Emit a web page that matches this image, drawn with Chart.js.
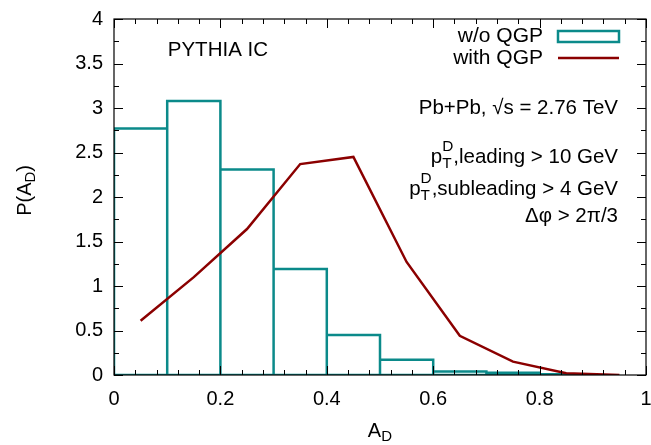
<!DOCTYPE html>
<html>
<head>
<meta charset="utf-8">
<script src="https://cdn.jsdelivr.net/npm/chart.js@4"></script>
<style>
  html, body { margin: 0; padding: 0; background: #fff; }
  #wrap { width: 651px; height: 445px; }
</style>
</head>
<body>
<div id="wrap"><canvas id="myChart" width="651" height="445"></canvas></div>
<script>
// histogram bins (centres) and heights, w/o QGP
const binCentres = [0.05, 0.15, 0.25, 0.35, 0.45, 0.55, 0.65, 0.75, 0.85];
const binWidth = 0.1;
const noQgp = [2.77, 3.08, 2.31, 1.19, 0.45, 0.17, 0.04, 0.025, 0.008];

// curve with QGP
const qgpX = [0.05, 0.15, 0.25, 0.35, 0.45, 0.55, 0.65, 0.75, 0.85, 0.95];
const withQgp = [0.61, 1.1, 1.64, 2.37, 2.45, 1.27, 0.44, 0.15, 0.02, 0.0];

const xLabels = [0, 0.2, 0.4, 0.6, 0.8, 1];
const yLabels = [0, 0.5, 1, 1.5, 2, 2.5, 3, 3.5, 4];
const xMinorStep = 0.04;
const yMinorStep = 0.25;

const teal = '#0b8a8a';
const darkRed = '#8b0000';
const FONT = '"Liberation Sans", Arial, sans-serif';

// outline of each histogram box (gnuplot "boxes" style), closed at the bottom
const histPoints = [];
binCentres.forEach((c, i) => {
    const lo = c - binWidth / 2;
    const hi = c + binWidth / 2;
    histPoints.push({ x: lo, y: 0 }, { x: lo, y: noQgp[i] }, { x: hi, y: noQgp[i] }, { x: hi, y: 0 }, { x: lo, y: 0 }, { x: hi, y: 0 });
});

// text with sub/superscripts, drawn right aligned at x
function drawRich(ctx, parts, xRight, y, size) {
    let total = 0;
    for (let p of parts) {
        ctx.font = (p.s ? size * 0.75 : size) + 'px ' + FONT;
        p.w = ctx.measureText(p.t).width;
        if (!p.stack) total += p.w;
    }
    let x = xRight - total;
    let prevW = 0;
    for (let p of parts) {
        ctx.font = (p.s ? size * 0.75 : size) + 'px ' + FONT;
        if (p.stack) {
            ctx.fillText(p.t, x - prevW, y + (p.dy || 0));
            continue;
        }
        ctx.fillText(p.t, x, y + (p.dy || 0));
        x += p.w;
        prevW = p.w;
    }
}

const decorations = {
    id: 'decorations',
    afterDraw(chart) {
        const ctx = chart.ctx;
        const a = chart.chartArea;
        const xs = chart.scales.x;
        const ys = chart.scales.y;
        ctx.save();

        // frame
        ctx.strokeStyle = '#000';
        ctx.lineWidth = 1.2;
        ctx.strokeRect(a.left, a.top, a.right - a.left, a.bottom - a.top);

        // inward ticks (major + minor), mirrored
        ctx.lineWidth = 1;
        const nx = Math.round((xs.max - xs.min) / xMinorStep);
        for (let i = 0; i <= nx; i++) {
            const px = Math.round(xs.getPixelForValue(xs.min + i * xMinorStep)) + 0.5;
            const len = i % 5 === 0 ? 9 : 5;
            ctx.beginPath();
            ctx.moveTo(px, a.bottom); ctx.lineTo(px, a.bottom - len);
            ctx.moveTo(px, a.top); ctx.lineTo(px, a.top + len);
            ctx.stroke();
        }
        const ny = Math.round((ys.max - ys.min) / yMinorStep);
        for (let i = 0; i <= ny; i++) {
            const py = Math.round(ys.getPixelForValue(ys.min + i * yMinorStep)) + 0.5;
            const len = i % 2 === 0 ? 9 : 5;
            ctx.beginPath();
            ctx.moveTo(a.left, py); ctx.lineTo(a.left + len, py);
            ctx.moveTo(a.right, py); ctx.lineTo(a.right - len, py);
            ctx.stroke();
        }

        ctx.fillStyle = '#000';
        ctx.textBaseline = 'middle';
        ctx.textAlign = 'left';

        // axis titles
        drawRich(ctx, [{t: 'A'}, {t: 'D', s: true, dy: 6}], 392, 431, 20);
        ctx.save();
        ctx.translate(25, 197);
        ctx.rotate(-Math.PI / 2);
        drawRich(ctx, [{t: 'P(A'}, {t: 'D', s: true, dy: 6}, {t: ')'}], 32, 0, 20);
        ctx.restore();

        // legend
        drawRich(ctx, [{t: 'w/o QGP'}], 543, 36, 21);
        drawRich(ctx, [{t: 'with QGP'}], 543, 58, 21);
        ctx.strokeStyle = teal;
        ctx.lineWidth = 2.5;
        ctx.strokeRect(558, 31, 61, 11);
        ctx.strokeStyle = darkRed;
        ctx.beginPath();
        ctx.moveTo(558, 58); ctx.lineTo(619, 58);
        ctx.stroke();

        // annotations
        drawRich(ctx, [{t: 'PYTHIA IC'}], 268, 50, 20.5);
        drawRich(ctx, [{t: 'Pb+Pb, \u221As = 2.76 TeV'}], 618, 108, 20.5);
        drawRich(ctx, [{t: 'p'}, {t: 'D', s: true, dy: -10}, {t: 'T', s: true, dy: 7, stack: true}, {t: ',leading > 10 GeV'}], 618, 157, 20.5);
        drawRich(ctx, [{t: 'p'}, {t: 'D', s: true, dy: -10}, {t: 'T', s: true, dy: 7, stack: true}, {t: ',subleading > 4 GeV'}], 618, 189, 20.5);
        drawRich(ctx, [{t: '\u0394\u03c6 > 2\u03c0/3'}], 618, 216, 20.5);

        ctx.restore();
    }
};

const ctx = document.getElementById('myChart').getContext('2d');

const myChart = new Chart(ctx, { // eslint-disable-line
    type: 'line',
    data: {
        datasets: [
            {
                label: 'w/o QGP',
                data: histPoints,
                borderColor: teal,
                borderWidth: 2.5,
                borderJoinStyle: 'miter',
                pointRadius: 0,
                tension: 0,
                fill: false,
                order: 2
            },
            {
                label: 'with QGP',
                data: qgpX.map((x, i) => ({ x: x, y: withQgp[i] })),
                borderColor: darkRed,
                borderWidth: 2.5,
                pointRadius: 0,
                tension: 0,
                fill: false,
                order: 1
            }
        ]
    },
    options: {
        responsive: false,
        animation: false,
        devicePixelRatio: 1,
        layout: { padding: { top: 19, right: 5, left: 0, bottom: 0 } },
        plugins: {
            legend: { display: false },
            tooltip: { enabled: false }
        },
        scales: {
            x: {
                type: 'linear',
                min: 0,
                max: 1,
                offset: false,
                grid: { display: false, drawTicks: false },
                border: { display: false },
                ticks: {
                    stepSize: 0.2,
                    autoSkip: false,
                    maxRotation: 0,
                    padding: 12,
                    color: '#000',
                    font: { family: FONT, size: 20 },
                    callback: v => String(Math.round(v * 10) / 10)
                },
                afterFit: s => { s.height = 70; s.paddingLeft = 0; s.paddingRight = 0; }
            },
            y: {
                min: 0,
                max: 4,
                grid: { display: false, drawTicks: false },
                border: { display: false },
                ticks: {
                    stepSize: 0.5,
                    autoSkip: false,
                    padding: 11,
                    color: '#000',
                    font: { family: FONT, size: 20 },
                    callback: v => String(Math.round(v * 10) / 10)
                },
                afterFit: s => { s.width = 114; s.paddingTop = 0; s.paddingBottom = 0; }
            }
        }
    },
    plugins: [decorations]
});
</script>
</body>
</html>
